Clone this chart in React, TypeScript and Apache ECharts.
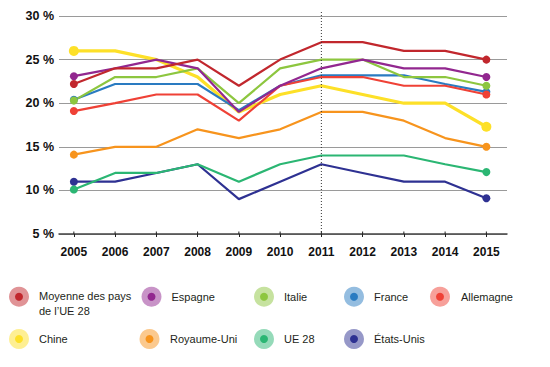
import React, { useEffect, useRef } from "react";
import * as echarts from "echarts";

const years = [2005, 2006, 2007, 2008, 2009, 2010, 2011, 2012, 2013, 2014, 2015];
const yTicks = [5, 10, 15, 20, 25, 30];

const seriesNames = [
  "Moyenne des pays de l’UE 28",
  "Espagne",
  "Italie",
  "France",
  "Allemagne",
  "Chine",
  "Royaume-Uni",
  "UE 28",
  "États-Unis",
];
const legendLabels = [
  "Moyenne des pays\nde l’UE 28",
  "Espagne",
  "Italie",
  "France",
  "Allemagne",
  "Chine",
  "Royaume-Uni",
  "UE 28",
  "États-Unis",
];
const colors = [
  "#c1272d",
  "#92278f",
  "#8dc63f",
  "#2a7bc1",
  "#ef4136",
  "#fde028",
  "#f7941d",
  "#2bb673",
  "#2e3192",
];

const moyenne = [22.2, 24, 24, 25, 22, 25, 27, 27, 26, 26, 25];
const espagne = [23.1, 24, 25, 24, 19, 22, 24, 25, 24, 24, 23];
const italie = [20.3, 23, 23, 24, 20, 24, 25, 25, 23, 23, 22];
const france = [20.4, 22.2, 22.2, 22.2, 19.2, 22, 23.2, 23.2, 23.2, 22.2, 21.3];
const allemagne = [19.1, 20, 21, 21, 18, 22, 23, 23, 22, 22, 21];
const chine = [26, 26, 25, 23, 19, 21, 22, 21, 20, 20, 17.3];
const royaumeUni = [14.1, 15, 15, 17, 16, 17, 19, 19, 18, 16, 15];
const ue28 = [10.1, 12, 12, 13, 11, 13, 14, 14, 14, 13, 12.1];
const etatsUnis = [11, 11, 12, 13, 9, 11, 13, 12, 11, 11, 9.1];

const seriesValues = [moyenne, espagne, italie, france, allemagne, chine, royaumeUni, ue28, etatsUnis];
const markerYear = 2011;

// drawing order (bottom to top)
const drawOrder = [8, 7, 6, 5, 3, 4, 2, 1, 0];

const axisFont = "'Liberation Sans Narrow', 'Liberation Sans', Arial, sans-serif";
const legendFont = "'Liberation Sans', Arial, sans-serif";

export default function App() {
  const ref = useRef<HTMLDivElement>(null);
  useEffect(() => {
    if (!ref.current) return;
    const chart = echarts.init(ref.current, undefined, { renderer: "svg" });
    const last = years.length - 1;

    const series: any[] = drawOrder.map((i) => {
      const isChine = i === 5;
      return {
        name: seriesNames[i],
        type: "line",
        data: years.map((y, k) => [y, seriesValues[i][k]]),
        symbol: "circle",
        symbolSize: (_v: any, p: any) =>
          p.dataIndex === 0 || p.dataIndex === last ? (isChine ? 10 : 8) : 0,
        showSymbol: true,
        lineStyle: { color: colors[i], width: isChine ? 3.2 : 2.2 },
        itemStyle: { color: colors[i] },
        z: 3,
      };
    });

    const graphics: any[] = [];
    const legendPos = [
      [19, 296.7, 39],
      [151.5, 296.7, 171.5],
      [264, 296.7, 284],
      [354, 296.7, 374],
      [440, 296.7, 461],
      [19, 339, 39],
      [149.5, 339, 170],
      [264, 339, 284],
      [354, 339, 374],
    ];
    legendLabels.forEach((label, i) => {
      const [cx, cy, tx] = legendPos[i];
      graphics.push({
        type: "circle",
        shape: { cx, cy, r: 10 },
        style: { fill: colors[i], opacity: 0.5 },
        silent: true,
      });
      graphics.push({
        type: "circle",
        shape: { cx, cy, r: 4 },
        style: { fill: colors[i] },
        silent: true,
      });
      const multi = label.indexOf("\n") >= 0;
      graphics.push({
        type: "text",
        x: tx,
        y: multi ? cy - 7.5 : cy,
        style: {
          text: label,
          fill: "#231f20",
          font: `11px ${legendFont}`,
          verticalAlign: multi ? "top" : "middle",
          lineHeight: 14.5,
        },
        silent: true,
      });
    });

    chart.setOption({
      animation: false,
      backgroundColor: "#ffffff",
      grid: { left: 59, right: 43, top: 16, bottom: 133, containLabel: false },
      xAxis: {
        type: "value",
        min: 2004.64,
        max: 2015.5,
        axisLine: { show: true, lineStyle: { color: "#444", width: 1.5 } },
        axisTick: {
          show: true,
          length: 3,
          lineStyle: { color: "#222", width: 1 },
          customValues: years,
        },
        axisLabel: {
          show: true,
          customValues: years,
          formatter: (v: number) => String(v),
          fontFamily: axisFont,
          fontWeight: "bold",
          fontSize: 12,
          color: "#111",
          margin: 12,
        },
        splitLine: { show: false },
      },
      yAxis: {
        type: "value",
        min: 5,
        max: 30,
        interval: 5,
        axisLine: { show: false },
        axisTick: { show: false },
        axisLabel: {
          formatter: (v: number) => (yTicks.indexOf(v) >= 0 ? `${v} %` : ""),
          fontFamily: axisFont,
          fontWeight: "bold",
          fontSize: 12.5,
          color: "#111",
          margin: 5,
        },
        splitLine: { show: true, lineStyle: { color: "#9a9a9a", width: 1 } },
      },
      series,
      graphic: graphics,
    });

    // dotted reference line at 2011 and tick marks crossing above the axis
    const top = chart.convertToPixel({ gridIndex: 0 }, [markerYear, 30]) as number[];
    const bottom = chart.convertToPixel({ gridIndex: 0 }, [markerYear, 5]) as number[];
    const extra: any[] = [
      {
        type: "line",
        shape: { x1: top[0], y1: top[1] - 4, x2: bottom[0], y2: bottom[1] },
        style: { stroke: "#333", lineWidth: 1, lineDash: [1, 2] },
        silent: true,
        z: 10,
      },
    ];
    years.forEach((y) => {
      const p = chart.convertToPixel({ gridIndex: 0 }, [y, 5]) as number[];
      extra.push({
        type: "line",
        shape: { x1: p[0], y1: p[1] - 2.5, x2: p[0], y2: p[1] },
        style: { stroke: "#222", lineWidth: 1 },
        silent: true,
        z: 10,
      });
    });
    chart.setOption({ graphic: graphics.concat(extra) });

    return () => chart.dispose();
  }, []);
  return (
    <div
      ref={ref}
      style={{ position: "fixed", left: 0, top: 0, width: 550, height: 367, background: "#fff" }}
    />
  );
}
